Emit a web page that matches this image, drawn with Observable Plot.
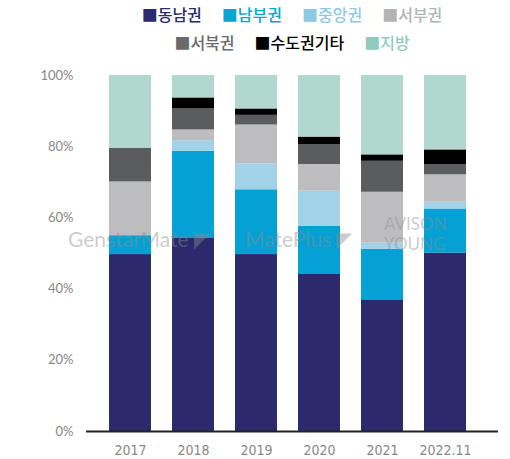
<!DOCTYPE html>
<html>
<head>
<meta charset="utf-8">
<script src="https://cdn.jsdelivr.net/npm/d3@7"></script>
<script src="https://cdn.jsdelivr.net/npm/@observablehq/plot@0.6"></script>
<style>
  html, body { margin: 0; padding: 0; background: #fff; }
  #wrap { position: relative; width: 510px; height: 459px; overflow: hidden; }
  #legend { position: absolute; left: 74px; top: 0; width: 436px; font-family: "Noto Sans CJK KR", sans-serif; font-size: 16px; font-weight: 500; text-align: center; line-height: 28px; }
  #legend .row { white-space: nowrap; }
  #legend .item { margin: 0 10px; }
  #chart { position: absolute; left: 0; top: 55px; }
  .wm { position: absolute; font-family: "Lato", sans-serif; color: rgba(140,140,140,0.45); pointer-events: none; white-space: nowrap; }
</style>
</head>
<body>
<div id="wrap">
  <div id="legend"></div>
  <div id="chart"></div>
  <div class="wm" style="left:68px; top:226px; font-size:21px;">GenstarMate ◤</div>
  <div class="wm" style="left:245px; top:226px; font-size:21px;">MatePlus ◤</div>
  <div class="wm" style="left:384px; top:214px; font-size:17px; line-height:20px;">AVISON<br>YOUNG</div>
</div>
<script>
const years = ["2017", "2018", "2019", "2020", "2021", "2022.11"];
const regions = ["동남권", "남부권", "중앙권", "서부권", "서북권", "수도권기타", "지방"];
const colors = ["#2a2a6c", "#05a1d4", "#a1d2e8", "#bdbdc0", "#5b5c5e", "#000000", "#b1d8cf"];
const legendTextColors = ["#2a2a6c", "#0aa3d6", "#8fc8e4", "#b3b3b6", "#6a6a6c", "#000000", "#8fcbbd"];

const 동남권 = [49.7, 54.4, 49.7, 44.1, 36.8, 50.1];
const 남부권 = [5.3, 24.3, 18.2, 13.5, 14.4, 12.4];
const 중앙권 = [0, 3.0, 7.3, 9.9, 1.7, 1.9];
const 서부권 = [15.1, 3.0, 10.9, 7.5, 14.3, 7.7];
const 서북권 = [9.5, 5.9, 2.7, 5.6, 8.7, 2.9];
const 수도권기타 = [0, 3.1, 1.8, 2.1, 1.8, 4.1];
const 지방 = [20.4, 6.3, 9.4, 17.3, 22.3, 20.9];

const yTicks = [0, 20, 40, 60, 80, 100];

const series = [동남권, 남부권, 중앙권, 서부권, 서북권, 수도권기타, 지방];
const data = [];
regions.forEach((r, i) => years.forEach((y, j) => data.push({year: y, region: r, value: series[i][j]})));

// Legend
const legendRows = [[0, 1, 2, 3], [4, 5, 6]];
const legend = document.getElementById("legend");
legendRows.forEach(row => {
  const div = document.createElement("div");
  div.className = "row";
  row.forEach(i => {
    const s = document.createElement("span");
    s.className = "item";
    s.style.color = legendTextColors[i];
    s.textContent = "■" + regions[i];
    div.appendChild(s);
  });
  legend.appendChild(div);
});

const chart = Plot.plot({
  width: 510,
  height: 404,
  marginLeft: 86,
  marginRight: 12,
  marginTop: 20,
  marginBottom: 28,
  style: {fontFamily: "Lato, sans-serif", fontSize: "13px", background: "transparent"},
  x: {domain: years, padding: 0.335, insetLeft: 1, insetRight: 11, label: null},
  y: {domain: [0, 100], label: null},
  color: {domain: regions, range: colors},
  marks: [
    Plot.barY(data, {x: "year", y: "value", fill: "region", order: regions}),
    Plot.ruleY([0], {stroke: "#222", strokeWidth: 2}),
    Plot.axisY({ticks: yTicks, tickSize: 0, tickPadding: 13, tickFormat: d => d + "%", fontSize: 13, fill: "#888", label: null}),
    Plot.axisX({tickSize: 0, tickPadding: 14, fontSize: 14, fill: "#888", label: null, fontFamily: "'Liberation Sans Narrow', 'DejaVu Sans Condensed', sans-serif"})
  ]
});
document.getElementById("chart").appendChild(chart);
</script>
</body>
</html>
